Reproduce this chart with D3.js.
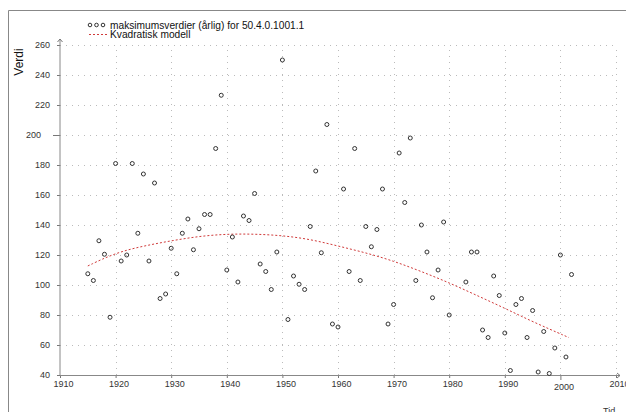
<!DOCTYPE html>
<html>
<head>
<meta charset="utf-8">
<script src="https://cdn.jsdelivr.net/npm/d3@7"></script>
<style>
  body { margin: 0; background: #fff; }
  text { font-family: "Liberation Sans", Arial, sans-serif; }
</style>
</head>
<body>
<div id="chart"></div>
<script>
// annual maxima
var years = [1915,1916,1917,1918,1919,1920,1921,1922,1923,1924,1925,1926,1927,1928,1929,
  1930,1931,1932,1933,1934,1935,1936,1937,1938,1939,1940,1941,1942,1943,1944,1945,1946,1947,1948,1949,
  1950,1951,1952,1953,1954,1955,1956,1957,1958,1959,1960,1961,1962,1963,1964,1965,1966,1967,1968,1969,
  1970,1971,1972,1973,1974,1975,1976,1977,1978,1979,1980,1983,1984,1985,1986,1987,1988,1989,
  1990,1991,1992,1993,1994,1995,1996,1997,1998,1999,2000,2001,2002];
var values = [107.5,103,129.5,120.5,78.5,181,116,120,181,134.5,174,116,168,91,94,
  124.5,107.5,134.5,144,123.5,137.5,147,147,191,226.5,110,132,102,146,143,161,114,109,97,122,
  250,77,106,100.5,97,139,176,121.5,207,74,72,164,109,191,103,139,125.5,137,164,74,
  87,188,155,198,103,140,122,91.5,110,142,80,102,122,122,70,65,106,93,
  68,43,87,91,65,83,42,69,41,58,120,52,107];

// quadratic model
var modelYears = [1915,1920,1925,1930,1935,1940,1945,1950,1955,1960,1965,1970,1975,1980,1985,1990,1995,2001.5];
var modelValues = [112.7,121.5,126,129.5,132.5,134,134,133,130.5,126,121.5,116,109,101.5,93,84.5,75.5,65];

var xTicks = [1910,1920,1930,1940,1950,1960,1970,1980,1990,2000,2010];
var yTicks = [40,60,80,100,120,140,160,180,200,220,240,260];

var W = 626, H = 412;
var svg = d3.select("#chart").append("svg")
  .attr("width", W).attr("height", H);

var x = d3.scaleLinear().domain([1910, 2010]).range([60, 616]);
var y = d3.scaleLinear().domain([40, 260]).range([375, 45]);

// frame
svg.append("path")
  .attr("d", "M8.5," + H + "V10.5H" + W)
  .attr("fill", "none").attr("stroke", "#888").attr("stroke-width", 1);

// grid
svg.append("g").selectAll("line").data(yTicks.slice(1)).join("line")
  .attr("x1", x(1910)).attr("x2", x(2010))
  .attr("y1", d => Math.round(y(d)) + 0.5).attr("y2", d => Math.round(y(d)) + 0.5)
  .attr("stroke", "#bbb").attr("stroke-dasharray", "1,5");
svg.append("g").selectAll("line").data(xTicks.slice(1)).join("line")
  .attr("x1", d => Math.round(x(d)) + 0.5).attr("x2", d => Math.round(x(d)) + 0.5)
  .attr("y1", y(40)).attr("y2", y(260))
  .attr("stroke", "#bbb").attr("stroke-dasharray", "1,5");

// axes
var gy = svg.append("g")
  .attr("transform", "translate(" + x(1910) + ",0)")
  .call(d3.axisLeft(y).tickValues(yTicks).tickSize(3).tickPadding(7).tickFormat(d3.format("d")));
var gx = svg.append("g")
  .attr("transform", "translate(0," + y(40) + ")")
  .call(d3.axisBottom(x).tickValues(xTicks).tickSize(3).tickPadding(3).tickFormat(d3.format("d")));

[gy, gx].forEach(function(g) {
  g.select(".domain").remove();
  g.selectAll("line").attr("stroke", "#777");
  g.selectAll("text").attr("fill", "#333").style("font-size", "9px");
});
gx.selectAll(".tick text").attr("dx", 3);

// reference tick at 200 / 2000 is longer
gy.selectAll(".tick").filter(d => d === 200).select("line").attr("x2", -7);
gy.selectAll(".tick").filter(d => d === 200).select("text").attr("x", -19);
gx.selectAll(".tick").filter(d => d === 2000).select("line").attr("y2", 5);
gx.selectAll(".tick").filter(d => d === 2000).select("text").attr("y", 9);

// axis lines with arrows
svg.append("line")
  .attr("x1", x(1910)).attr("x2", x(1910))
  .attr("y1", y(40)).attr("y2", y(260) - 6)
  .attr("stroke", "#888");
svg.append("path")
  .attr("d", "M" + (x(1910) - 2.5) + "," + (y(260) - 3) + "L" + x(1910) + "," + (y(260) - 6) + "L" + (x(1910) + 2.5) + "," + (y(260) - 3))
  .attr("fill", "none").attr("stroke", "#777");
svg.append("line")
  .attr("x1", x(1910)).attr("x2", x(2010) + 4)
  .attr("y1", y(40) + 0.5).attr("y2", y(40) + 0.5)
  .attr("stroke", "#888");
svg.append("path")
  .attr("d", "M" + (x(2010) + 1) + "," + (y(40) - 2) + "L" + (x(2010) + 4) + "," + (y(40) + 0.5) + "L" + (x(2010) + 1) + "," + (y(40) + 3))
  .attr("fill", "none").attr("stroke", "#777");

// axis titles
svg.append("text")
  .attr("transform", "translate(23,62) rotate(-90)")
  .attr("text-anchor", "middle")
  .style("font-size", "12px").attr("fill", "#111")
  .text("Verdi");
svg.append("text")
  .attr("x", 603).attr("y", 414)
  .style("font-size", "9px").attr("fill", "#333")
  .text("Tid");

// model curve
var model = modelYears.map((d, i) => [d, modelValues[i]]);
svg.append("path")
  .datum(model)
  .attr("fill", "none")
  .attr("stroke", "#d03a3a")
  .attr("stroke-width", 1)
  .attr("stroke-dasharray", "2,2")
  .attr("d", d3.line()
    .x(d => x(d[0]))
    .y(d => y(d[1]))
    .curve(d3.curveBasis));

// points
svg.append("g").selectAll("circle").data(years).join("circle")
  .attr("cx", d => x(d))
  .attr("cy", (d, i) => y(values[i]))
  .attr("r", 2)
  .attr("fill", "none")
  .attr("stroke", "#333")
  .attr("stroke-width", 1);

// legend
var lg = svg.append("g");
lg.selectAll("circle").data([90, 96.5, 103]).join("circle")
  .attr("cx", d => d).attr("cy", 25).attr("r", 1.8)
  .attr("fill", "none").attr("stroke", "#333");
lg.append("text").attr("x", 110).attr("y", 28.5)
  .style("font-size", "10.2px").attr("fill", "#111")
  .text("maksimumsverdier (årlig) for 50.4.0.1001.1");
lg.append("line")
  .attr("x1", 89).attr("x2", 107).attr("y1", 34.5).attr("y2", 34.5)
  .attr("stroke", "#d03a3a").attr("stroke-dasharray", "2,2");
lg.append("text").attr("x", 110).attr("y", 38)
  .style("font-size", "10.2px").attr("fill", "#111")
  .text("Kvadratisk modell");
</script>
</body>
</html>
